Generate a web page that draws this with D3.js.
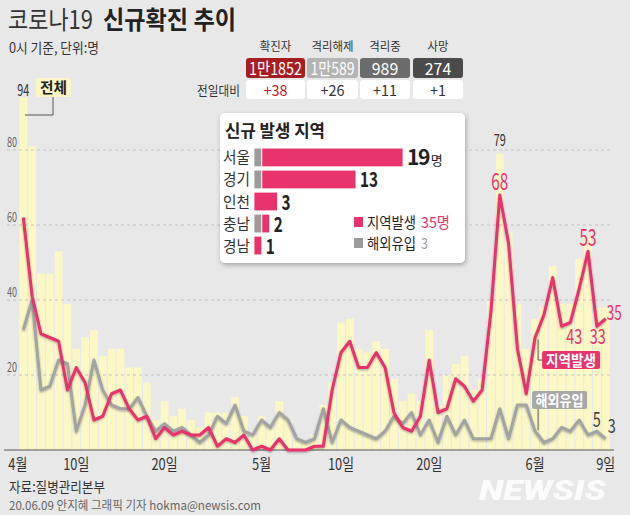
<!DOCTYPE html>
<html>
<head>
<meta charset="utf-8">
<script src="https://cdn.jsdelivr.net/npm/d3@7"></script>
<style>
  html, body { margin: 0; padding: 0; background: #e8e8e8; }
  svg { display: block; font-family: "Noto Sans CJK KR", "Noto Sans", sans-serif; }
</style>
</head>
<body>
<svg id="chart" width="630" height="515"></svg>
<script>
// daily new cases, reported at 0h, 4/4 .. 6/9
const totalCases = [94, 81, 47, 47, 53, 39, 27, 30, 32, 25, 27, 27, 22, 22, 18, 8, 13, 9, 11, 8,
  6, 10, 10, 10, 14, 9, 4, 9, 6, 13, 8, 3, 2, 4, 12, 18, 34, 35, 27, 26,
  29, 27, 19, 13, 15, 13, 32, 12, 20, 23, 25, 16, 19, 40, 79, 58, 39, 27, 35, 38,
  49, 39, 39, 51, 57, 38, 38];
const localCases = [62, 41, 31, 30, 29, 16, 22, 18, 8, 9, 15, 16, 11, 8, 9, 3, 6, 4, 5, 4,
  4, 6, 1, 3, 2, 4, 0, 1, 0, 3, 0, 0, 0, 1, 1, 16, 26, 29, 22, 22,
  26, 22, 10, 6, 5, 9, 24, 10, 11, 19, 17, 13, 16, 37, 68, 55, 27, 15, 30, 36,
  46, 33, 34, 43, 53, 33, 35];
const importedCases = [32, 40, 16, 17, 24, 23, 5, 12, 24, 16, 12, 11, 11, 14, 9, 5, 7, 5, 6, 4,
  2, 4, 9, 7, 12, 5, 4, 8, 6, 10, 8, 3, 2, 3, 11, 2, 8, 6, 5, 4,
  3, 5, 9, 7, 10, 4, 8, 2, 9, 4, 8, 3, 3, 3, 11, 3, 12, 12, 5, 2,
  3, 6, 5, 8, 4, 5, 3];

const days = d3.timeDay.range(new Date(2020, 3, 4), new Date(2020, 5, 10));
const dayKey = d => (d.getMonth() + 1) + "/" + d.getDate();

const tickDays = ["4/4", "4/10", "4/20", "5/1", "5/10", "5/20", "6/1", "6/9"];
const tickLabels = ["4월", "10일", "20일", "5월", "10일", "20일", "6월", "9일"];
const yTicks = [20, 40, 60, 80];

// stat boxes
const statNames = ["확진자", "격리해제", "격리중", "사망"];
const statValues = ["1만1852", "1만589", "989", "274"];
const statDeltas = ["+38", "+26", "+11", "+1"];
const statColors = ["#a61e22", "#b4b4b4", "#6c6c6c", "#4b4b4b"];

// inset: new cases by region
const regions = ["서울", "경기", "인천", "충남", "경남"];
const regionLocal = [18, 12, 3, 1, 1];
const regionImported = [1, 1, 0, 1, 0];
const regionTotal = [19, 13, 3, 2, 1];

const PINK = "#e8336c", GREY = "#a3a3a3", BAR = "#fcf8c6";

const svg = d3.select("#chart");

const defs = svg.append("defs");
const sh = defs.append("filter").attr("id", "sh").attr("x", "-10%").attr("y", "-10%").attr("width", "130%").attr("height", "130%");
sh.append("feDropShadow").attr("dx", 0).attr("dy", 1).attr("stdDeviation", 0.8).attr("flood-color", "#000").attr("flood-opacity", 0.35);
const psh = defs.append("filter").attr("id", "psh").attr("x", "-10%").attr("y", "-10%").attr("width", "130%").attr("height", "130%");
psh.append("feDropShadow").attr("dx", 1).attr("dy", 2).attr("stdDeviation", 2.5).attr("flood-color", "#000").attr("flood-opacity", 0.3);

function txt(g, x, y, s, o) {
    o = o || {};
    const t = g.append("text")
        .attr("x", x).attr("y", y)
        .attr("font-size", o.size || 13)
        .attr("font-weight", o.weight || 400)
        .attr("fill", o.fill || "#333")
        .attr("text-anchor", o.anchor || "start")
        .text(s);
    if (o.w) t.attr("textLength", o.w).attr("lengthAdjust", "spacingAndGlyphs");
    return t;
}

// scales
const x = d3.scaleBand().domain(days.map(dayKey)).range([19, 610]).paddingInner(0.12).paddingOuter(0.05);
const y = d3.scaleLinear().domain([0, 100]).range([450, 75]);
const cx = i => x(dayKey(days[i])) + x.bandwidth() / 2;

// bars (전체)
svg.append("g").selectAll("rect")
    .data(totalCases)
    .join("rect")
    .attr("x", (d, i) => x(dayKey(days[i])))
    .attr("y", d => y(d))
    .attr("width", x.bandwidth())
    .attr("height", d => y(0) - y(d))
    .attr("fill", BAR);

// grid
const grid = svg.append("g");
yTicks.forEach(v => {
    grid.append("line")
        .attr("x1", 7).attr("x2", 612)
        .attr("y1", y(v)).attr("y2", y(v))
        .attr("stroke", "#c2c2c2").attr("stroke-dasharray", "3,3");
    txt(grid, 7, y(v) - 3, String(v), { size: 13, fill: "#666", w: 10 });
});

// baseline + x labels
svg.append("line").attr("x1", 4).attr("x2", 614).attr("y1", y(0)).attr("y2", y(0))
    .attr("stroke", "#555").attr("stroke-width", 1.2);
const xa = svg.append("g");
tickDays.forEach((k, i) => {
    const lab = tickLabels[i];
    const px = x(k) + x.bandwidth() / 2;
    const w = lab.length > 2 ? 26 : 19;
    if (i === 0) txt(xa, px + 4, 470, lab, { size: 16, anchor: "end", fill: "#333", w: w });
    else txt(xa, px, 470, lab, { size: 16, anchor: "middle", fill: "#333", w: w });
});

// lines
const line = d3.line().x((d, i) => cx(i)).y(d => y(d)).curve(d3.curveLinear);
svg.append("path").datum(importedCases).attr("d", line)
    .attr("fill", "none").attr("stroke", GREY).attr("stroke-width", 3)
    .attr("stroke-linejoin", "round").attr("filter", "url(#sh)");
svg.append("path").datum(localCases).attr("d", line)
    .attr("fill", "none").attr("stroke", PINK).attr("stroke-width", 3)
    .attr("stroke-linejoin", "round").attr("filter", "url(#sh)");

// value annotations
const ann = svg.append("g");
const last = totalCases.length - 1;
txt(ann, cx(0), y(totalCases[0]) - 2, String(totalCases[0]), { size: 16, anchor: "middle", fill: "#333", w: 12 });
txt(ann, cx(54), y(totalCases[54]) - 8, String(totalCases[54]), { size: 16, anchor: "middle", fill: "#333", w: 12 });
txt(ann, cx(54), y(localCases[54]) - 5, String(localCases[54]), { size: 23, anchor: "middle", fill: PINK, w: 17 });
txt(ann, cx(64), y(localCases[64]) - 5, String(localCases[64]), { size: 23, anchor: "middle", fill: PINK, w: 17 });
txt(ann, cx(63) - 5, y(localCases[63]) + 55, String(localCases[63]), { size: 20, anchor: "middle", fill: PINK, w: 16 });
txt(ann, cx(65) + 1, y(localCases[65]) + 18, String(localCases[65]), { size: 20, anchor: "middle", fill: PINK, w: 16 });
txt(ann, cx(last) + 1, y(localCases[last]) + 1, String(localCases[last]), { size: 20, fill: PINK, w: 15 });
txt(ann, cx(65), y(importedCases[65]) - 4, String(importedCases[65]), { size: 21, anchor: "middle", fill: "#444", w: 8 });
txt(ann, cx(last) + 6, y(importedCases[last]) - 6, String(importedCases[last]), { size: 19, anchor: "middle", fill: "#444", w: 8 });

// series tags
const tags = svg.append("g");
tags.append("polyline").attr("points", [[53, 97], [53, 115], [25, 115]].join(" "))
    .attr("fill", "none").attr("stroke", "#555");
tags.append("rect").attr("x", 36).attr("y", 78).attr("width", 35).attr("height", 19).attr("rx", 2).attr("fill", "#fbf6c4");
txt(tags, 53.5, 93, "전체", { size: 15, anchor: "middle", weight: 700, fill: "#222", w: 27 });

const kx = cx(58) + 3;
tags.append("polyline").attr("points", [[kx, y(localCases[58]) + 2], [kx, 360], [kx + 4, 360]].join(" "))
    .attr("fill", "none").attr("stroke", "#555");
tags.append("rect").attr("x", kx + 4).attr("y", 351).attr("width", 58).attr("height", 18).attr("rx", 2).attr("fill", PINK);
txt(tags, kx + 33, 365.5, "지역발생", { size: 15, anchor: "middle", weight: 700, fill: "#fff", w: 50 });

tags.append("line").attr("x1", kx).attr("x2", kx).attr("y1", 409).attr("y2", y(importedCases[58]) - 1)
    .attr("stroke", "#555");
tags.append("rect").attr("x", kx - 6).attr("y", 391).attr("width", 55).attr("height", 18).attr("rx", 2).attr("fill", "#a8a8a8");
txt(tags, kx + 21.5, 405.5, "해외유입", { size: 15, anchor: "middle", weight: 700, fill: "#fff", w: 48 });

// title
txt(svg, 8, 29, "코로나19", { size: 25, fill: "#333", w: 85 });
txt(svg, 103, 29, "신규확진 추이", { size: 25, weight: 700, fill: "#222", w: 133 });
txt(svg, 9, 53, "0시 기준, 단위:명", { size: 14, fill: "#333", w: 90 });

// stat boxes
const boxX = [246, 307, 360, 413];
const boxW = [59, 51, 50, 50];
const stats = svg.append("g");
statNames.forEach((n, i) => {
    const c = boxX[i] + boxW[i] / 2;
    txt(stats, c, 51, n, { size: 12, anchor: "middle", fill: "#333", w: n.length * 10.5 });
    stats.append("rect").attr("x", boxX[i]).attr("y", 58).attr("width", boxW[i]).attr("height", 20).attr("rx", 3).attr("fill", statColors[i]);
    const v = statValues[i];
    txt(stats, c, 74.5, v, { size: 17, anchor: "middle", fill: "#fff", w: v.length * 8.8 });
    stats.append("rect").attr("x", boxX[i]).attr("y", 80).attr("width", boxW[i]).attr("height", 19).attr("rx", 3).attr("fill", "#fff");
    txt(stats, c, 95.5, statDeltas[i], { size: 15, anchor: "middle", fill: i === 0 ? "#c8141e" : "#333", w: statDeltas[i].length * 8 });
});
txt(stats, 240, 95, "전일대비", { size: 13, anchor: "end", fill: "#333", w: 43 });

// inset panel
const panel = svg.append("g");
panel.append("rect").attr("x", 220).attr("y", 113).attr("width", 245).attr("height", 150).attr("rx", 5)
    .attr("fill", "#fff").attr("filter", "url(#psh)");
txt(panel, 225, 137, "신규 발생 지역", { size: 17, weight: 700, fill: "#222", w: 100 });

const rx = d3.scaleLinear().domain([0, 19]).range([254, 403]);
const ry = d3.scaleBand().domain(regions).range([147, 256]).paddingInner(0.15).paddingOuter(0.05);
regions.forEach((r, i) => {
    const yy = ry(r), h = ry.bandwidth();
    txt(panel, 223, yy + h / 2 + 6, r, { size: 16, fill: "#333", w: 27 });
    if (regionImported[i] > 0) {
        panel.append("rect").attr("x", rx(0)).attr("y", yy).attr("width", rx(regionImported[i]) - rx(0)).attr("height", h)
            .attr("fill", "#9b9b9b").attr("stroke", "#fff").attr("stroke-width", 0.8);
    }
    panel.append("rect").attr("x", rx(regionImported[i])).attr("y", yy)
        .attr("width", rx(regionImported[i] + regionLocal[i]) - rx(regionImported[i])).attr("height", h)
        .attr("fill", PINK).attr("stroke", "#fff").attr("stroke-width", 0.8);
    const lx = rx(regionTotal[i]) + 4;
    const s = String(regionTotal[i]);
    const t = txt(panel, lx, yy + h / 2 + 8, s, { size: 21, weight: 700, fill: "#222", w: s.length * 9 });
    if (i === 0) {
        t.attr("textLength", null).attr("lengthAdjust", null).attr("letter-spacing", -1.5);
        t.append("tspan").attr("font-size", 13).attr("font-weight", 400).attr("dx", 2).text("명");
    }
});

// inset legend
panel.append("rect").attr("x", 354).attr("y", 217).attr("width", 9).attr("height", 10).attr("fill", PINK);
txt(panel, 367, 228, "지역발생", { size: 15, fill: "#222", w: 49 });
txt(panel, 421, 228, "35명", { size: 15, fill: PINK, w: 29 });
panel.append("rect").attr("x", 354).attr("y", 238).attr("width", 9).attr("height", 10).attr("fill", "#9b9b9b");
txt(panel, 367, 249, "해외유입", { size: 15, fill: "#222", w: 49 });
txt(panel, 421, 249, "3", { size: 15, fill: "#999", w: 7 });

// footer
txt(svg, 9, 492, "자료:질병관리본부", { size: 14, fill: "#333", w: 96 });
txt(svg, 9, 510, "20.06.09 안지혜 그래픽 기자 hokma@newsis.com", { size: 12, fill: "#666", w: 252 });
txt(svg, 606, 500, "NEWSIS", { size: 28, weight: 900, anchor: "end", fill: "#fff", w: 127 })
    .attr("font-style", "italic").attr("font-family", "Roboto, 'Liberation Sans', sans-serif").attr("opacity", 0.85);
</script>
</body>
</html>
